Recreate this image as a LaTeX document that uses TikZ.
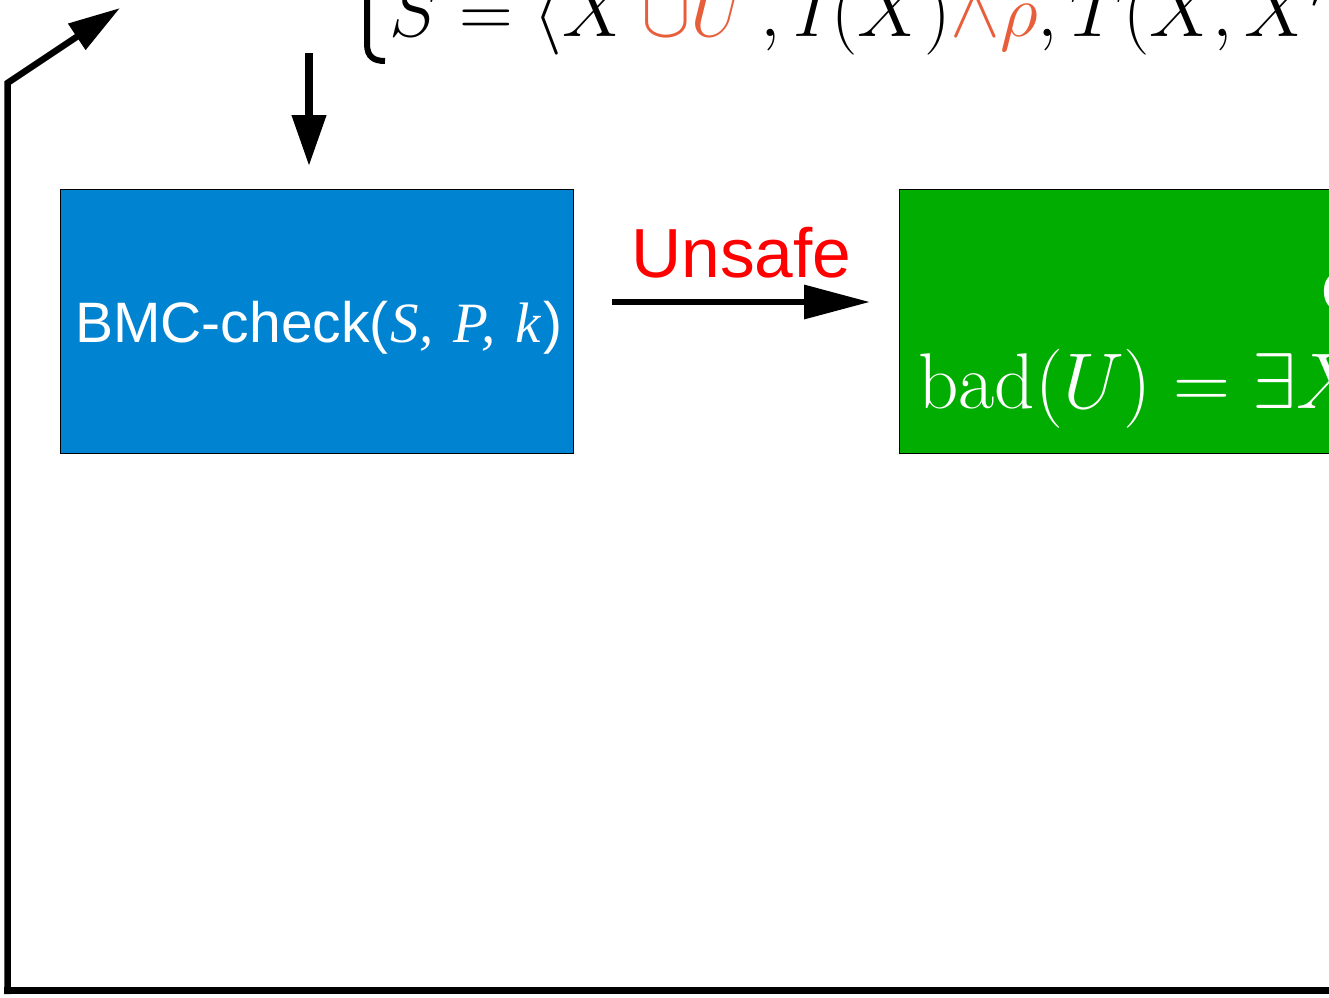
\RequirePackage{fix-cm}
\documentclass[tikz,border=0pt]{standalone}
\usepackage{fontspec}
\setsansfont{Liberation Sans}
\newfontfamily\tms{Liberation Serif}
\usetikzlibrary{arrows.meta}
\definecolor{boxblue}{HTML}{0083D1}
\definecolor{boxgreen}{HTML}{00AD00}
\definecolor{mathorange}{HTML}{E85E3A}
\definecolor{unsafered}{HTML}{FF0000}
\tikzset{
  procbox/.style={draw=black, line width=0.8pt, inner sep=0pt, outer sep=0pt},
  thickarrow/.style={line width=6.5pt},
}
\begin{document}
\begin{tikzpicture}[x=1pt,y=-1pt]
\useasboundingbox (0,0) rectangle (1329,997);
\clip (0,0) rectangle (1329,997);
\fill[white] (0,0) rectangle (1329,997);
% boxes
\node[procbox, fill=boxblue, minimum width=513pt, minimum height=264pt, anchor=north west] (bmc) at (60,189) {};
\node[procbox, fill=boxgreen, minimum width=460pt, minimum height=264pt, anchor=north west] (bad) at (899,189) {};
% texts
\node[anchor=base west, inner sep=0pt, text=white, font=\sffamily\fontsize{57}{68}\selectfont] (bmctext) at (75,342)
  {BMC-check({\tms\itshape\kern2pt S,\kern6pt{} P,\kern6pt{} k\kern2pt})};
\node[anchor=base west, inner sep=0pt, text=white, font=\fontsize{79}{94}\selectfont] (badtext) at (918,408)
  {$\mathrm{bad}(U) = \exists X$};
\node[anchor=base west, inner sep=0pt, text=white, font=\sffamily\fontsize{57}{68}\selectfont] (ctext) at (1321,311) {C};
\node[anchor=base west, inner sep=0pt, text=unsafered, font=\sffamily\fontsize{69.5}{82}\selectfont] (unsafe) at (631,277) {Unsafe};
\node[anchor=base west, inner sep=0pt, font=\fontsize{74.5}{88}\selectfont] (sys) at (389,36)
  {$S = \langle X\,{\color{mathorange}\cup U}\,, I(X){\color{mathorange}\wedge\rho}, T(X, X')$};
% brace hook
\draw[line width=6pt, line cap=butt] (367,-5) -- (367,44) .. controls (367,57) and (374,61) .. (385,61);
% connectors
\coordinate (ua) at (612,302);
\coordinate (ub) at (870,302);
\draw[thickarrow, -{Triangle[length=66pt,width=33pt]}] (ua) -- (ub);
\coordinate (da) at (309,53);
\coordinate (db) at (309,166);
\draw[thickarrow, line width=7.5pt, -{Triangle[length=51pt,width=33pt]}] (da) -- (db);
\coordinate (lb) at (7.5,994);
\coordinate (lc) at (7.5,83);
\coordinate (ld) at (120,8);
\draw[thickarrow, line join=miter, -{Triangle[length=52pt,width=30pt]}] (lb) -- (lc) -- (ld);
\coordinate (ba) at (4,990.5);
\coordinate (bb) at (1340,990.5);
\draw[thickarrow, line width=7pt] (ba) -- (bb);
\end{tikzpicture}
\end{document}
